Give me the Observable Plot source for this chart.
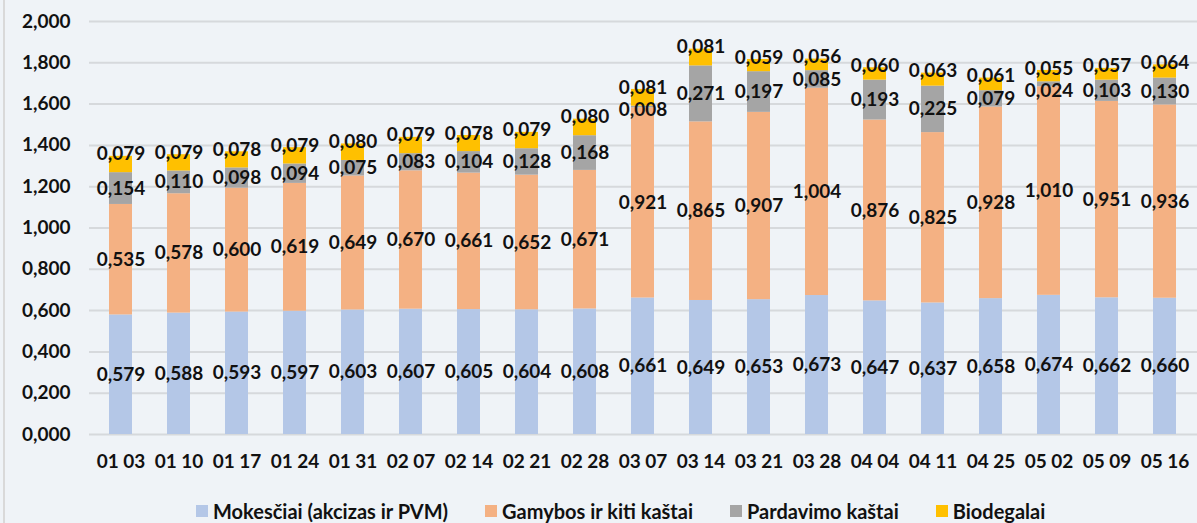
<!DOCTYPE html>
<html><head><meta charset="utf-8">
<script src="https://cdn.jsdelivr.net/npm/d3@7"></script>
<script src="https://cdn.jsdelivr.net/npm/@observablehq/plot@0.6"></script>
<style>
html,body{margin:0;padding:0;background:#eff3f7;}
body{width:1197px;height:523px;overflow:hidden;position:relative;font-family:Lato,sans-serif;}
#chart{position:absolute;left:0;top:0;}
#border{position:absolute;left:3px;top:0;width:2px;height:523px;background:#d9d9d9;}
#legend{position:absolute;left:196px;top:500px;display:flex;align-items:center;font-weight:bold;font-size:20px;line-height:22px;color:#111;white-space:nowrap;}
.item{display:flex;align-items:center;margin-right:37px}
.sw{width:12px;height:12px;margin-right:5px}
</style></head><body>
<div id="chart"></div><div id="border"></div><div id="legend"></div>
<script>
const categories = ["01 03","01 10","01 17","01 24","01 31","02 07","02 14","02 21","02 28","03 07","03 14","03 21","03 28","04 04","04 11","04 25","05 02","05 09","05 16"];
const seriesNames = ["Mokesčiai (akcizas ir PVM)","Gamybos ir kiti kaštai","Pardavimo kaštai","Biodegalai"];
const mokesciai = [0.579,0.588,0.593,0.597,0.603,0.607,0.605,0.604,0.608,0.661,0.649,0.653,0.673,0.647,0.637,0.658,0.674,0.662,0.660];
const gamybos = [0.535,0.578,0.600,0.619,0.649,0.670,0.661,0.652,0.671,0.921,0.865,0.907,1.004,0.876,0.825,0.928,1.010,0.951,0.936];
const pardavimo = [0.154,0.110,0.098,0.094,0.075,0.083,0.104,0.128,0.168,0.008,0.271,0.197,0.085,0.193,0.225,0.079,0.024,0.103,0.130];
const biodegalai = [0.079,0.079,0.078,0.079,0.080,0.079,0.078,0.079,0.080,0.081,0.081,0.059,0.056,0.060,0.063,0.061,0.055,0.057,0.064];
const yTicks = [0,0.2,0.4,0.6,0.8,1.0,1.2,1.4,1.6,1.8,2.0];
const colors = ["#b4c7e7","#f4b183","#a5a5a5","#ffc000"];

const seriesValues = [mokesciai, gamybos, pardavimo, biodegalai];
const rows = [];
seriesNames.forEach((s, si) => categories.forEach((c, i) => rows.push({date: c, series: s, value: seriesValues[si][i]})));
const bio = seriesNames[3];
const fmt = v => d3.format(".3f")(v).replace(".", ",");

// label rows for the grey segment: centred, but kept clear of the label at the stack top
const greyLabels = categories.map((c, i) => {
  const base = mokesciai[i] + gamybos[i];
  const top = base + pardavimo[i] + biodegalai[i];
  return {date: c, value: pardavimo[i], pos: Math.min(base + pardavimo[i] / 2, top - 0.1)};
});

const chart = Plot.plot({
  width: 1197, height: 490,
  marginTop: 21, marginBottom: 56, marginLeft: 89, marginRight: 0,
  style: {background: "transparent", fontFamily: "Lato, sans-serif", fontSize: "19px", fontWeight: "bold", color: "#111"},
  x: {domain: categories, paddingInner: 0.6, paddingOuter: 0.3, label: null, tickSize: 0, tickPadding: 20},
  y: {domain: [0, 2], ticks: yTicks, tickFormat: fmt, label: null, tickSize: 0, tickPadding: 19},
  color: {domain: seriesNames, range: colors},
  marks: [
    Plot.ruleY(yTicks, {stroke: "#d6d9dc", strokeWidth: 2}),
    Plot.barY(rows, {x: "date", y: "value", z: "series", fill: "series"}),
    Plot.text(rows, Plot.stackY({x: "date", y: "value", z: "series", text: d => (d.series === seriesNames[0] || d.series === seriesNames[1]) ? fmt(d.value) : null, fill: "#111", fontWeight: "bold", fontSize: 19})),
    Plot.text(greyLabels, {x: "date", y: "pos", text: d => fmt(d.value), fill: "#111", fontWeight: "bold", fontSize: 19}),
    Plot.text(rows, Plot.stackY2({x: "date", y: "value", z: "series", text: d => d.series === bio ? fmt(d.value) : null, fill: "#111", fontWeight: "bold", fontSize: 19, dy: -2}))
  ]
});
document.getElementById("chart").appendChild(chart);

const legend = document.getElementById("legend");
seriesNames.forEach((s, i) => {
  const it = document.createElement("div"); it.className = "item";
  const sw = document.createElement("div"); sw.className = "sw"; sw.style.background = colors[i];
  const tx = document.createElement("span"); tx.textContent = s;
  it.appendChild(sw); it.appendChild(tx); legend.appendChild(it);
});
</script>
</body></html>
